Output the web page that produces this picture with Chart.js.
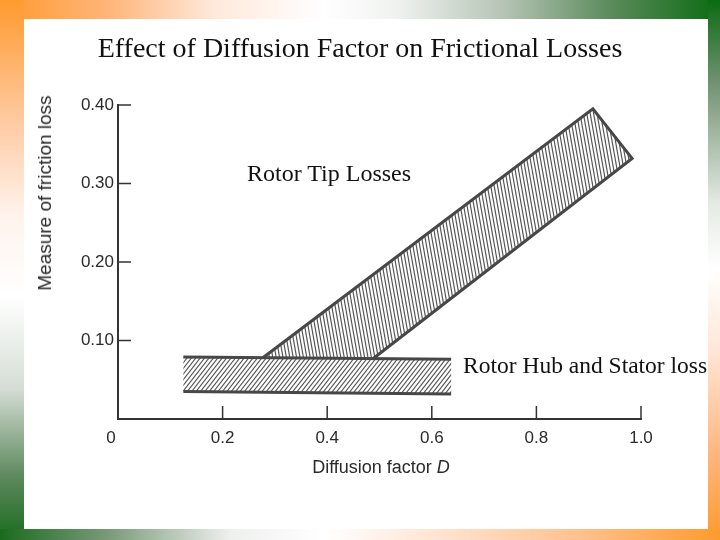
<!DOCTYPE html>
<html>
<head>
<meta charset="utf-8">
<script src="https://cdn.jsdelivr.net/npm/chart.js@4.4.1/dist/chart.umd.min.js"></script>
<style>
html,body{margin:0;padding:0;width:720px;height:540px;overflow:hidden;background:#fff;}
.edge{position:absolute;}
#eTop{left:0;top:0;width:720px;height:19px;background:linear-gradient(to right,#ff9a2e 0%,#ffb57a 15%,#ffe9dc 30%,#fff 45%,#f0f2f0 55%,#b5c4b5 70%,#5a8a5a 85%,#0b6b12 100%);}
#eBot{left:0;top:529px;width:720px;height:11px;background:linear-gradient(to right,#1a6b1e 0%,#7a9a7a 15%,#eef0ee 32%,#fff 45%,#ffeee4 55%,#ffc290 80%,#ff9a2e 100%);}
#eLeft{left:0;top:0;width:24px;height:540px;background:linear-gradient(to bottom,#ff9a2e 0%,#ffc9a0 22%,#fff3ec 40%,#fff 55%,#d5ddd5 72%,#5f8a5f 88%,#1a6b1e 100%);}
#eRight{left:708px;top:0;width:12px;height:540px;background:linear-gradient(to bottom,#0b6b12 0%,#6f916f 15%,#e6ebe6 38%,#fff 50%,#ffe6d6 65%,#ffb47a 85%,#ff9a2e 100%);}
#wrap{position:absolute;left:0;top:0;width:720px;height:540px;}
.t{position:absolute;white-space:nowrap;transform:translate(-50%,-50%);}
.serif{font-family:"Liberation Serif","Times New Roman",serif;color:#111;}
.sans{font-family:"Liberation Sans",Arial,sans-serif;color:#2a2a2a;}
.left{transform:translate(0,-50%);}
</style>
</head>
<body>
<div class="edge" id="eTop"></div>
<div class="edge" id="eLeft"></div>
<div class="edge" id="eRight"></div>
<div class="edge" id="eBot"></div>
<div id="wrap"><canvas id="c" width="720" height="540"></canvas></div>
<div class="t serif" style="left:360px;top:48px;font-size:28px;">Effect of Diffusion Factor on Frictional Losses</div>
<div class="t serif left" style="left:247px;top:173px;font-size:24px;">Rotor Tip Losses</div>
<div class="t serif left" style="left:463px;top:365px;font-size:23.5px;">Rotor Hub and Stator loss</div>
<div class="t sans" style="left:45px;top:193px;font-size:19px;transform:translate(-50%,-50%) rotate(-90deg);">Measure of friction loss</div>
<div class="t sans" style="left:381px;top:467px;font-size:18px;">Diffusion factor <i>D</i></div>
<div class="t sans" style="left:111px;top:438px;font-size:17px;">0</div>
<script>
// axis ticks
const xTicks = [0, 0.2, 0.4, 0.6, 0.8, 1.0];
const yTicks = [0, 0.1, 0.2, 0.3, 0.4];
// rotor hub + stator band outline: top edge, then bottom edge back
const hubD    = [0.125, 0.637, 0.637, 0.125];
const hubLoss = [0.079, 0.076, 0.032, 0.035];
// rotor tip band outline: upper edge, end cap, lower edge back
const tipD    = [0.277, 0.908, 0.983, 0.488];
const tipLoss = [0.078, 0.395, 0.332, 0.077];

const pts = (xs, ys) => xs.map((x, i) => ({x, y: ys[i]}));

// full-canvas hatch so the pattern lines up with the page
function hatch(step, deg){
  const c = document.createElement("canvas"); c.width = 720; c.height = 540;
  const g = c.getContext("2d");
  g.strokeStyle = "#555"; g.lineWidth = 1.2;
  const run = 540 / Math.tan(deg * Math.PI / 180);
  for(let x = -800; x < 1500; x += step){
    g.beginPath(); g.moveTo(x, 540); g.lineTo(x + run, 0); g.stroke();
  }
  return g.createPattern(c, "no-repeat");
}

const EDGE = "#474747";
const innerTicks = {id:"innerTicks", afterDatasetsDraw(chart){
  const {ctx, scales:{x, y}} = chart;
  const x0 = x.getPixelForValue(0), y0 = y.getPixelForValue(0);
  ctx.save(); ctx.strokeStyle = "#333"; ctx.lineWidth = 1.5;
  yTicks.forEach(v => { if(!v) return; const py = y.getPixelForValue(v);
    ctx.beginPath(); ctx.moveTo(x0, py); ctx.lineTo(x0 + 13, py); ctx.stroke(); });
  xTicks.forEach(v => { if(!v) return; const px = x.getPixelForValue(v);
    ctx.beginPath(); ctx.moveTo(px, y0); ctx.lineTo(px, y0 - 13); ctx.stroke(); });
  ctx.restore();
}};

const edgeLine = (xs, ys) => ({data: pts(xs, ys), showLine:true, fill:false,
  borderColor: EDGE, borderWidth: 3, pointRadius: 0, order: 0});

new Chart(document.getElementById("c"), {
  type: "scatter",
  data: {datasets: [
    edgeLine(hubD.slice(0, 2), hubLoss.slice(0, 2)),
    edgeLine(hubD.slice(2), hubLoss.slice(2)),
    {label:"Rotor hub and stator", data: pts(hubD, hubLoss), showLine:true, fill:"shape",
     backgroundColor: hatch(4.4, 52), borderWidth: 0, pointRadius: 0, order: 1},
    {label:"Rotor tip", data: pts(tipD, tipLoss), showLine:true, fill:"shape",
     backgroundColor: hatch(3.4, 100), borderColor: EDGE, borderWidth: 3, pointRadius: 0, order: 2}
  ]},
  options: {
    responsive:false, animation:false,
    layout:{padding:{top:105, right:79, left:0, bottom:0}},
    plugins:{legend:{display:false}, tooltip:{enabled:false}},
    scales:{
      x:{type:"linear", min:0, max:1,
        afterBuildTicks: s => { s.ticks = xTicks.map(v => ({value:v})); },
        afterFit: s => { s.height = 121; },
        grid:{drawOnChartArea:false, drawTicks:false},
        border:{display:true, color:"#333", width:2},
        ticks:{padding:9, color:"#2a2a2a", font:{family:"Liberation Sans", size:17},
          callback: v => v === 0 ? "" : v.toFixed(1)}},
      y:{type:"linear", min:0, max:0.4,
        afterBuildTicks: s => { s.ticks = yTicks.map(v => ({value:v})); },
        afterFit: s => { s.width = 118; },
        grid:{drawOnChartArea:false, drawTicks:false},
        border:{display:true, color:"#333", width:2},
        ticks:{padding:4, color:"#2a2a2a", font:{family:"Liberation Sans", size:17},
          callback: v => v === 0 ? "" : v.toFixed(2)}}
    }
  },
  plugins:[innerTicks]
});
</script>
</body>
</html>
